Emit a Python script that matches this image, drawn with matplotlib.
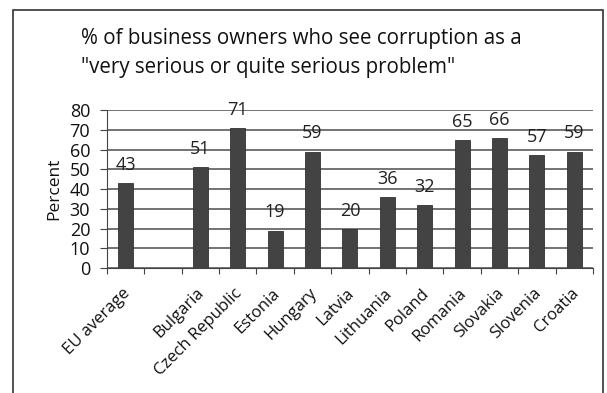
import matplotlib.pyplot as plt
from matplotlib.patches import Rectangle

# Survey results, one empty slot after the EU average
countries = ['EU average', '', 'Bulgaria', 'Czech Republic', 'Estonia', 'Hungary',
             'Latvia', 'Lithuania', 'Poland', 'Romania', 'Slovakia', 'Slovenia', 'Croatia']
percent = [43, None, 51, 71, 19, 59, 20, 36, 32, 65, 66, 57, 59]
y_ticks = [0, 10, 20, 30, 40, 50, 60, 70, 80]

plt.rcParams['font.family'] = ['Open Sans', 'DejaVu Sans']

fig = plt.figure(figsize=(6.07, 3.93), dpi=100)
ax = fig.add_axes([0.176, 0.318, 0.801, 0.402])

# Frame around the whole chart
fig.patches.append(Rectangle((0.022, -0.05), 0.972, 1.025, transform=fig.transFigure,
                             fill=False, edgecolor='#333333', linewidth=1.2))

fig.text(0.133, 0.903, '% of business owners who see corruption as a',
         fontsize=14.8, color='#111111', ha='left', va='center')
fig.text(0.133, 0.827, '"very serious or quite serious problem"',
         fontsize=14.8, color='#111111', ha='left', va='center')

xs = list(range(len(countries)))
for x, v in zip(xs, percent):
    if v is None:
        continue
    ax.bar(x, v, width=0.4, color='#434343', edgecolor='#333333', linewidth=0.6, zorder=3)
    ax.annotate(str(v), (x, v), xytext=(0, 6.5), textcoords='offset points',
                ha='center', va='bottom', fontsize=13, color='#222222', zorder=4)

ax.set_xlim(-0.5, len(countries) - 0.5)
ax.set_ylim(0, 80)
ax.set_yticks(y_ticks)
ax.set_yticklabels([str(t) for t in y_ticks], fontsize=13, color='#111111')
ax.set_ylabel('Percent', fontsize=12.5, color='#111111', labelpad=5)

ax.set_xticks([x - 0.5 for x in xs] + [len(countries) - 0.5])
ax.set_xticklabels([])
ax.tick_params(axis='x', length=4, direction='out', color='#444444')
ax.tick_params(axis='y', length=5, direction='out', color='#444444', pad=7)
for x, name in zip(xs, countries):
    if name:
        ax.text(x + 0.05, -11.5, name, rotation=45, ha='right', va='center',
                rotation_mode='anchor', fontsize=12, color='#111111')

ax.grid(axis='y', color='#4d4d4d', linewidth=1.1, zorder=0)
for side in ['top', 'right']:
    ax.spines[side].set_visible(False)
ax.spines['left'].set_color('#444444')
ax.spines['bottom'].set_color('#444444')

fig.savefig('out.png', dpi=100)
